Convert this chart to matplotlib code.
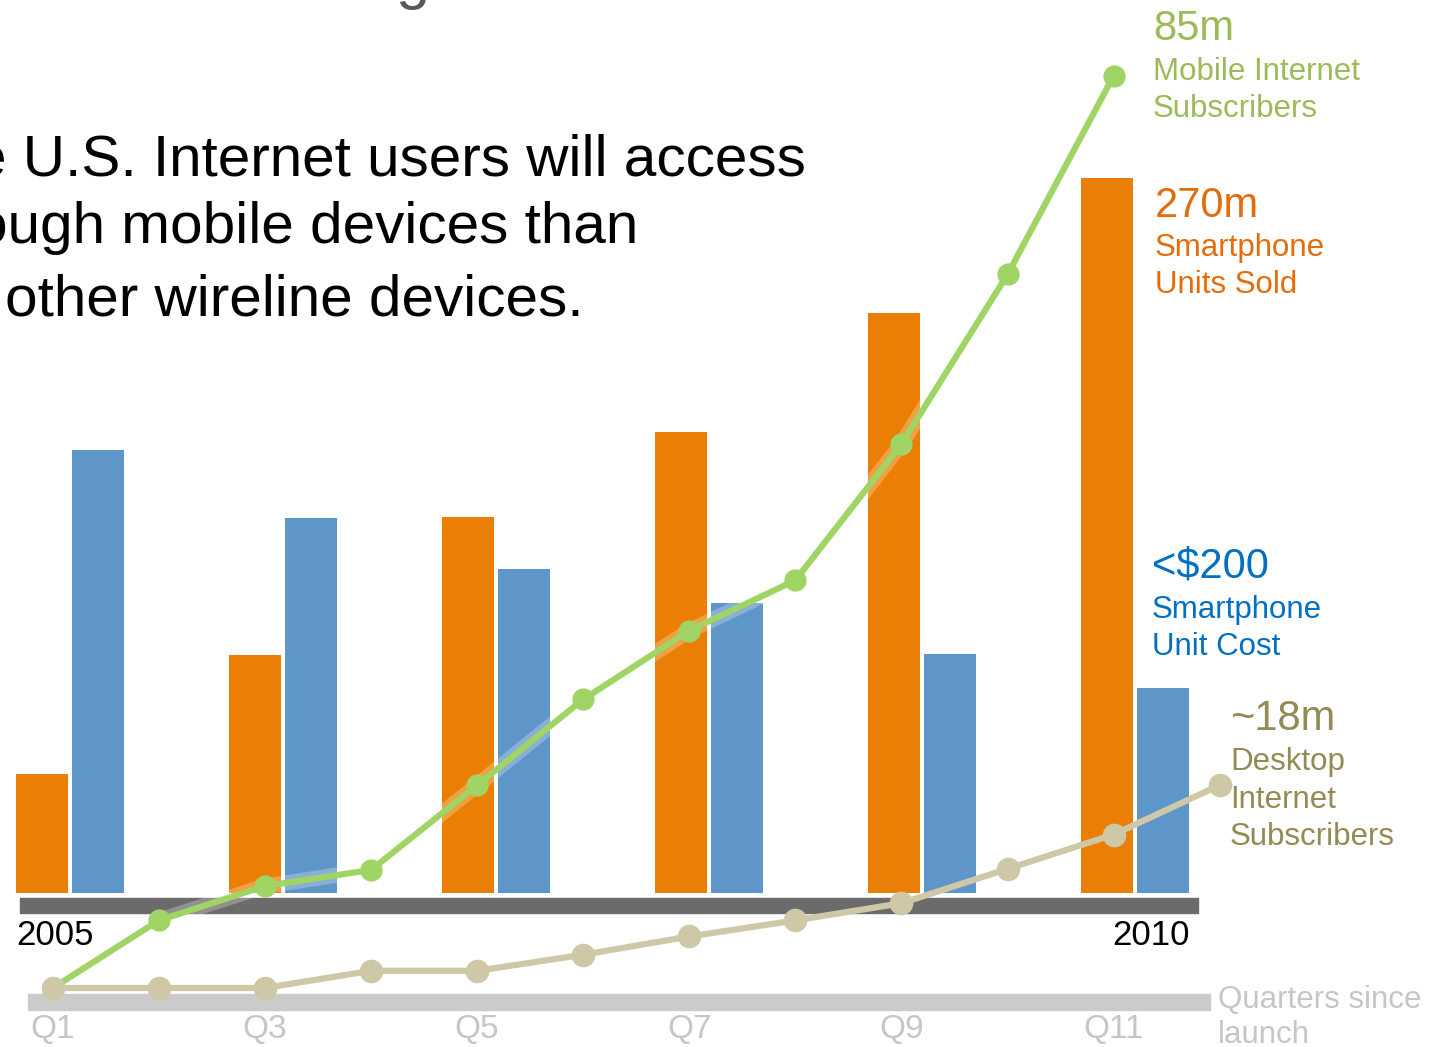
import matplotlib
matplotlib.use("Agg")
import matplotlib.pyplot as plt
from matplotlib.patches import Rectangle
from matplotlib.transforms import blended_transform_factory
import numpy as np

plt.rcParams['font.family'] = ['Liberation Sans', 'DejaVu Sans']

# data
years = [2005, 2006, 2007, 2008, 2009, 2010]
units_sold = [45, 90, 142, 174, 219, 270]        # smartphone units sold (m)
unit_cost = [432, 366, 316, 283, 233, 200]       # smartphone unit cost ($)
quarters = list(range(1, 13))
mobile_subs = [0, 6.3, 9.5, 11.0, 18.9, 26.9, 33.3, 38.0, 50.7, 66.5, 85]
desktop_subs = [0, 0, 0, 1.6, 1.6, 3.1, 4.8, 6.3, 7.9, 11.1, 14.3, 18.9]
quarter_labels = ['Q1', 'Q3', 'Q5', 'Q7', 'Q9', 'Q11']

W, H = 1445, 1047
fig = plt.figure(figsize=(W / 100, H / 100), dpi=100)

ORANGE = '#eb7f05'
BLUE = '#5f96c9'
GREEN = '#a0d464'
TAN = '#cfc8a7'


def fx(px):
    return px / W


def fy(py):
    return 1 - py / H


# bars: year axis, orange and blue on two y scales
ax = fig.add_axes([0, 0, 1, 1])
ax2 = ax.twinx()
ax.set_xlim(-0.3282, 6.457)
ax.set_ylim(-58.16, 337.2)
ax2.set_ylim(-150.2, 871.2)
idx = np.arange(len(years))
bw = 0.244
ax.bar(idx - 0.1315, units_sold, width=bw, color=ORANGE)
ax2.bar(idx + 0.1315, unit_cost, width=bw, color=BLUE)
for a in (ax, ax2):
    a.axis('off')

# axis bands
fig.add_artist(Rectangle((fx(20), fy(913)), fx(1198) - fx(20), 15 / H,
                         transform=fig.transFigure, color='#6b6b6b', zorder=1))
fig.add_artist(Rectangle((fx(28), fy(1010)), fx(1210) - fx(28), 16 / H,
                         transform=fig.transFigure, color='#cbcbcb', zorder=1))

# lines: quarters since launch
axl = fig.add_axes([0, 0, 1, 1], facecolor='none')
axl.set_zorder(2)
axl.set_xlim(0.5023, 14.124)
axl.set_ylim(-5.5, 92.08)
axl.axis('off')
# soft white glow under the green line
axl.plot(quarters[:len(mobile_subs)], mobile_subs, color='white', lw=11,
         alpha=0.25, zorder=2, solid_capstyle='round')
axl.plot(quarters[:len(mobile_subs)], mobile_subs, color=GREEN, lw=4.5,
         marker='o', ms=15, zorder=3, solid_capstyle='round')
axl.plot(quarters, desktop_subs, color=TAN, lw=4.5, marker='o', ms=16,
         zorder=4, solid_capstyle='round')

qtrans = blended_transform_factory(axl.transData, fig.transFigure)
for lab in quarter_labels:
    q = int(lab[1:])
    axl.text(q, fy(1038), lab, transform=qtrans, ha='center', va='baseline',
             fontsize=24, color='#c6c6c6')

# headline text (cropped slide)
fig.text(fx(395), fy(-3), 'g', fontsize=44, color='#595959', va='baseline')
fig.text(fx(-26), fy(175), 'e U.S. Internet users will access', fontsize=42.1,
         va='baseline')
fig.text(fx(-25), fy(243), 'ough mobile devices than', fontsize=42.1,
         va='baseline')
fig.text(fx(5), fy(315), 'other wireline devices.', fontsize=42.1,
         va='baseline')

# year labels
fig.text(fx(16), fy(945), '2005', fontsize=25, va='baseline')
fig.text(fx(1190), fy(945), '2010', fontsize=25, ha='right', va='baseline')
fig.text(fx(1218), fy(1008), 'Quarters since', fontsize=22.5, color='#c6c6c6', va='baseline')
fig.text(fx(1218), fy(1043), 'launch', fontsize=22.5, color='#c6c6c6', va='baseline')


# series labels
def label(x, ys, lines, color):
    fig.text(fx(x), fy(ys[0]), lines[0], fontsize=30, color=color, va='baseline')
    for yy, t in zip(ys[1:], lines[1:]):
        fig.text(fx(x), fy(yy), t, fontsize=22.5, color=color, va='baseline')


label(1153, [40, 80, 117], ['85m', 'Mobile Internet', 'Subscribers'], '#9bbb59')
label(1155, [217, 256, 293], ['270m', 'Smartphone', 'Units Sold'], '#e46c0a')
label(1152, [577, 618, 655], ['<$200', 'Smartphone', 'Unit Cost'], '#0070c0')
label(1230, [730, 770, 808, 845], ['~18m', 'Desktop', 'Internet', 'Subscribers'], '#948a54')

fig.savefig('out.png', dpi=100)
